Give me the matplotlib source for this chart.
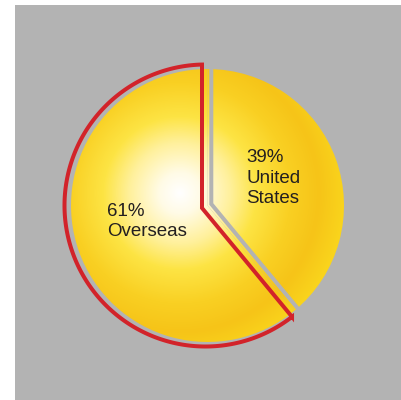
import numpy as np
import matplotlib
matplotlib.use("Agg")
import matplotlib.pyplot as plt
from matplotlib.patches import Rectangle, Wedge, PathPatch
from matplotlib.path import Path
from matplotlib.colors import LinearSegmentedColormap

plt.rcParams['font.family'] = ['Liberation Sans', 'DejaVu Sans']

# revenue split, percent
regions = ["United States", "Overseas"]
shares = [39, 61]
labels = ["39%\nUnited\nStates", "61%\nOverseas"]

W, H = 401, 400
bg = '#b3b3b3'
red = '#d2232a'
ink = '#231f20'

fig = plt.figure(figsize=(W / 100, H / 100), dpi=100)
ax = fig.add_axes([0, 0, 1, 1])
ax.set_xlim(0, W)
ax.set_ylim(0, H)
ax.axis('off')

ax.add_patch(Rectangle((15, 0), W - 15, H - 5, facecolor=bg, edgecolor='none', zorder=0))

# pie geometry
cx, cy, r = 207.5, 194.5, 136.5
start = 90.0
fracs = np.array(shares) / sum(shares)
# US goes clockwise from 12 o'clock, overseas takes the rest
us_t1, us_t2 = start - 360 * fracs[0], start
ov_t1, ov_t2 = start, start + 360 * fracs[1]

# radial glow, bright spot up-left of centre
gx, gy = 180.0, 207.0
xs = np.linspace(cx - r, cx + r, 500)
ys = np.linspace(cy - r, cy + r, 500)
XX, YY = np.meshgrid(xs, ys)
dist = np.hypot(XX - gx, YY - gy) / 170.0
glow = LinearSegmentedColormap.from_list('glow', [
    (0.0, '#ffffff'), (0.12, '#fffbe6'), (0.3, '#fff09a'), (0.45, '#fde444'),
    (0.65, '#f9d023'), (0.82, '#f6c418'), (1.0, '#fad71d')])

for t1, t2 in [(us_t1, us_t2), (ov_t1, ov_t2)]:
    w = Wedge((cx, cy), r, t1, t2, facecolor='none', edgecolor='none')
    ax.add_patch(w)
    im = ax.imshow(np.clip(dist, 0, 1), cmap=glow, vmin=0, vmax=1, origin='lower',
                   extent=[xs[0], xs[-1], ys[0], ys[-1]], aspect='auto', zorder=1,
                   interpolation='bilinear')
    im.set_clip_path(w)

ax.set_xlim(0, W)
ax.set_ylim(0, H)

lw = 4 * 72 / 100
cut = np.radians(us_t1)
d = np.array([np.cos(cut), np.sin(cut)])

# grey gap along the US slice edges
g0 = np.array([211.3, 196.0])
gap = np.array([[g0[0], cy + r + 8], g0, g0 + 150 * d])
ax.plot(gap[:, 0], gap[:, 1], color=bg, lw=lw, solid_joinstyle='miter', zorder=2)

# red outline around the overseas slice
v = np.array([202.0, 192.0])
rc = np.array([205.5, 194.5])
R = 141.0
top = np.array([v[0], rc[1] + np.sqrt(R ** 2 - (v[0] - rc[0]) ** 2)])
# where the lower edge meets the outer arc
f = v - rc
b = 2 * f.dot(d)
c = f.dot(f) - R ** 2
t = (-b + np.sqrt(b * b - 4 * c)) / 2
corner = v + t * d
a1 = np.degrees(np.arctan2(top[1] - rc[1], top[0] - rc[0]))
a2 = np.degrees(np.arctan2(corner[1] - rc[1], corner[0] - rc[0])) + 360
ang = np.radians(np.linspace(a1, a2, 200))
arc = np.column_stack([rc[0] + R * np.cos(ang), rc[1] + R * np.sin(ang)])
verts = np.vstack([v, top, arc, corner, v])
codes = [Path.MOVETO] + [Path.LINETO] * (len(verts) - 2) + [Path.CLOSEPOLY]
ax.add_patch(PathPatch(Path(verts, codes), facecolor='none', edgecolor=red, lw=lw,
                       joinstyle='miter', zorder=3))

ax.text(246, 250.5, labels[0], ha='left', va='top', fontsize=13.5, color=ink,
        linespacing=1.25, zorder=4)
ax.text(107.5, 197, labels[1], ha='left', va='top', fontsize=13.5, color=ink,
        linespacing=1.25, zorder=4)

fig.savefig('out.png', dpi=100, facecolor='white')
